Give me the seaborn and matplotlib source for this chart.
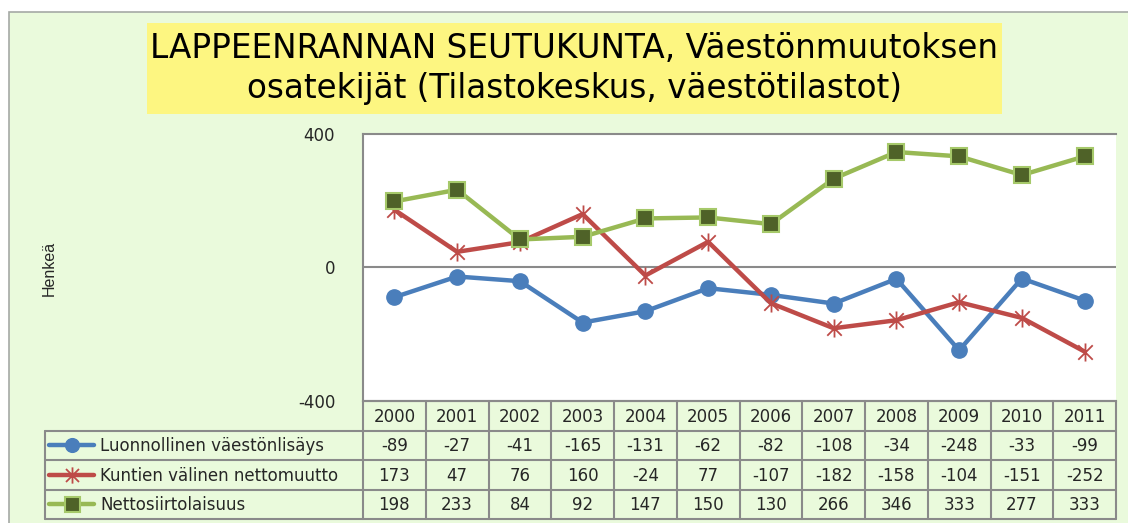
import numpy as np
import pandas as pd
import matplotlib
matplotlib.use("Agg")
import matplotlib.pyplot as plt
from matplotlib.path import Path
from matplotlib.patches import Rectangle
import seaborn as sns

# ---------------------------------------------------------
# Data (Tilastokeskus, väestötilastot)
# ---------------------------------------------------------
years = ["2000", "2001", "2002", "2003", "2004", "2005",
         "2006", "2007", "2008", "2009", "2010", "2011"]
luonnollinen = [-89, -27, -41, -165, -131, -62, -82, -108, -34, -248, -33, -99]
kuntien_valinen = [173, 47, 76, 160, -24, 77, -107, -182, -158, -104, -151, -252]
nettosiirto = [198, 233, 84, 92, 147, 150, 130, 266, 346, 333, 277, 333]

series_names = ["Luonnollinen väestönlisäys",
                "Kuntien välinen nettomuutto",
                "Nettosiirtolaisuus"]
series_values = [luonnollinen, kuntien_valinen, nettosiirto]
y_ticks = [-400, 0, 400]

title_text = "LAPPEENRANNAN SEUTUKUNTA, Väestönmuutoksen\nosatekijät (Tilastokeskus, väestötilastot)"
y_label = "Henkeä"

# ---------------------------------------------------------
# Style
# ---------------------------------------------------------
sns.set_style("white")
plt.rcParams["font.family"] = ["DejaVu Sans"]

BG = "#EAFADC"
GRID = "#8A8A8A"

star = Path([(0, -1), (0, 1), (-0.8, -0.8), (0.8, 0.8), (-0.8, 0.8), (0.8, -0.8)],
            [Path.MOVETO, Path.LINETO, Path.MOVETO, Path.LINETO, Path.MOVETO, Path.LINETO])

styles = [
    dict(color="#4A7EBB", marker="o", markersize=11, markerfacecolor="#4A7EBB",
         markeredgecolor="#4A7EBB", markeredgewidth=1),
    dict(color="#BE4B48", marker=star, markersize=13, markerfacecolor="none",
         markeredgecolor="#BE4B48", markeredgewidth=1.3),
    dict(color="#98B954", marker="s", markersize=12, markerfacecolor="#4F6228",
         markeredgecolor="#A6C96A", markeredgewidth=1.5),
]

df = pd.DataFrame({"idx": np.arange(len(years))})
for name, vals in zip(series_names, series_values):
    df[name] = vals

W, H = 1128, 523
fig = plt.figure(figsize=(W / 100, H / 100), dpi=100)
fig.patch.set_facecolor("white")

def fx(px):
    return px / W

def fy(py):
    return 1 - py / H

# outer chart frame
frame = Rectangle((fx(9), fy(H + 5)), fx(W + 10), fy(12) - fy(H + 5),
                  transform=fig.transFigure, facecolor=BG, edgecolor="#A5A9A5",
                  linewidth=1.2, zorder=-2)
fig.patches.append(frame)

# title with yellow box
title_box = Rectangle((fx(147), fy(114)), fx(1002) - fx(147), fy(23) - fy(114),
                      transform=fig.transFigure, facecolor="#FDF681",
                      edgecolor="none", zorder=-1)
fig.patches.append(title_box)
fig.text(fx(574.5), fy(68.5), title_text, ha="center", va="center",
         fontsize=23.5, linespacing=1.25, color="black", zorder=2)

# ---------------------------------------------------------
# Line chart
# ---------------------------------------------------------
plot_l, plot_r, plot_t, plot_b = 363, 1116, 134, 401
ax = fig.add_axes([fx(plot_l), fy(plot_b), fx(plot_r) - fx(plot_l), fy(plot_t) - fy(plot_b)])
ax.set_facecolor("white")

for name, st in zip(series_names, styles):
    sns.lineplot(data=df, x="idx", y=name, ax=ax, linewidth=3.2, legend=False,
                 zorder=3, **st)

ax.axhline(0, color=GRID, linewidth=1.5, zorder=2)
ax.set_xlim(-0.5, len(years) - 0.5)
ax.set_ylim(-400, 400)
ax.set_yticks(y_ticks)
ax.set_yticklabels([str(t) for t in y_ticks])
ax.set_xticks([])
ax.set_xlabel("")
ax.set_ylabel("")
ax.tick_params(axis="y", length=0, pad=20, labelsize=12)
for side in ["top", "left", "bottom"]:
    ax.spines[side].set_color(GRID)
    ax.spines[side].set_linewidth(1.5)
ax.spines["right"].set_visible(False)

fig.text(fx(49), fy(268), y_label, rotation=90, ha="center", va="center",
         fontsize=11.5, family=["Liberation Sans", "DejaVu Sans"])

# ---------------------------------------------------------
# Data table under the chart
# ---------------------------------------------------------
col_w = (plot_r - plot_l) / len(years)
tab_l, tab_r, tab_t, tab_b = 45, 1117, 401, 519
tax = fig.add_axes([fx(tab_l), fy(tab_b), fx(tab_r) - fx(tab_l), fy(tab_t) - fy(tab_b)])
x_left = -0.5 - (plot_l - tab_l) / col_w
x_right = -0.5 + (tab_r - plot_l) / col_w
tax.set_xlim(x_left, x_right)
tax.set_ylim(4, 0)
tax.axis("off")

n = len(years)
lw = 1.5
# horizontal lines
tax.plot([-0.5, n - 0.5], [0, 0], color=GRID, lw=lw, clip_on=False)
for r in [1, 2, 3, 4]:
    tax.plot([x_left, n - 0.5], [r, r], color=GRID, lw=lw, clip_on=False)
# vertical lines
tax.plot([x_left, x_left], [1, 4], color=GRID, lw=lw, clip_on=False)
for c in range(n + 1):
    tax.plot([c - 0.5, c - 0.5], [0, 4], color=GRID, lw=lw, clip_on=False)

for c, yr in enumerate(years):
    tax.text(c, 0.53, yr, ha="center", va="center", fontsize=12)
for r, (name, vals, st) in enumerate(zip(series_names, series_values, styles)):
    yc = r + 1.53
    for c, v in enumerate(vals):
        tax.text(c, yc, str(v), ha="center", va="center", fontsize=12)
    # legend key
    kx0 = x_left + 4 / col_w
    kx1 = x_left + 49 / col_w
    tax.plot([kx0, kx1], [r + 1.5, r + 1.5], color=st["color"], lw=3.2,
             solid_capstyle="round", clip_on=False)
    tax.plot([(kx0 + kx1) / 2], [r + 1.5], linestyle="none", clip_on=False,
             marker=st["marker"], markersize=st["markersize"] * 0.9,
             markerfacecolor=st["markerfacecolor"], markeredgecolor=st["markeredgecolor"],
             markeredgewidth=st["markeredgewidth"])
    tax.text(x_left + 55 / col_w, yc, name, ha="left", va="center", fontsize=12)

fig.savefig("out.png", dpi=100, facecolor=fig.get_facecolor())
